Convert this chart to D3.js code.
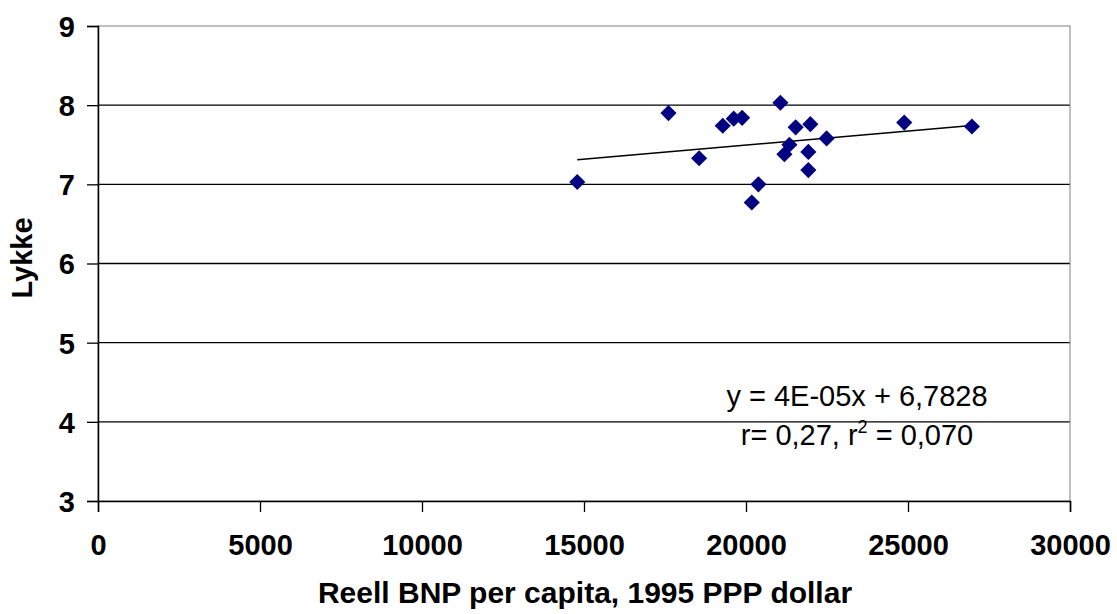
<!DOCTYPE html>
<html><head><meta charset="utf-8">
<script src="https://cdn.jsdelivr.net/npm/d3@7"></script>
<style>body{margin:0;background:#fff}svg{display:block}text{font-family:"Liberation Sans",Arial,sans-serif}</style>
</head><body><svg id="c" width="1117" height="614"></svg>
<script>
const gdp = [14792,17607,18553,19282,19621,19880,21061,20383,20177,21533,21986,21339,21184,21924,21924,22488,24884,26972];
const happiness = [7.03,7.90,7.33,7.74,7.83,7.84,8.03,7.00,6.77,7.72,7.76,7.50,7.38,7.41,7.18,7.58,7.78,7.73];
const trendSlope = 3.56e-5, trendIntercept = 6.7828;
const xTicks = [0,5000,10000,15000,20000,25000,30000];
const yTicks = [3,4,5,6,7,8,9];
const eqLine1 = "y = 4E-05x + 6,7828";

const svg = d3.select("#c");
const L=98,R=1070,T=26,B=501;
const FS = 29;
const x = d3.scaleLinear().domain([0,30000]).range([L,R]);
const y = d3.scaleLinear().domain([3,9]).range([B,T]);

// gridlines
svg.append("g").selectAll("line").data(yTicks.filter(d=>d>3 && d<9)).join("line")
  .attr("x1",L).attr("x2",R).attr("y1",d=>y(d)).attr("y2",d=>y(d))
  .attr("stroke","#000").attr("stroke-width",1.3);
// plot border gray
svg.append("rect").attr("x",L).attr("y",T).attr("width",R-L).attr("height",B-T)
  .attr("fill","none").attr("stroke","#808080").attr("stroke-width",1);

// axes
const yAxis = d3.axisLeft(y).tickValues(yTicks).tickSize(11).tickPadding(12).tickFormat(d3.format("d"));
const gy = svg.append("g").attr("transform",`translate(${L},0)`).call(yAxis);
const xAxis = d3.axisBottom(x).tickValues(xTicks).tickSize(11).tickPadding(22).tickFormat(d3.format("d"));
const gx = svg.append("g").attr("transform",`translate(0,${B})`).call(xAxis);
[gy,gx].forEach(g=>{
  g.select(".domain").attr("stroke","#000").attr("stroke-width",1.5);
  g.selectAll(".tick line").attr("stroke","#000").attr("stroke-width",1.3);
  g.selectAll("text").attr("font-family","Liberation Sans, Arial, sans-serif")
   .attr("font-size",FS).attr("font-weight","bold").attr("fill","#000");
});
gy.selectAll("text").attr("dy","0.36em");
gx.selectAll("text").attr("dy","0.71em");

// trendline
const x0 = d3.min(gdp), x1 = d3.max(gdp);
svg.append("line").attr("x1",x(x0)).attr("x2",x(x1))
  .attr("y1",y(trendIntercept+trendSlope*x0)).attr("y2",y(trendIntercept+trendSlope*x1))
  .attr("stroke","#000").attr("stroke-width",1.5);

// points
const diamond = d3.symbol().type(d3.symbolSquare).size(130);
svg.append("g").selectAll("path").data(gdp.map((g,i)=>[g,happiness[i]])).join("path")
  .attr("d",diamond)
  .attr("transform",d=>`translate(${x(d[0])},${y(d[1])}) rotate(45)`)
  .attr("fill","#000080");

// equation
svg.append("text").attr("x",857).attr("y",406).attr("text-anchor","middle")
  .attr("font-size",FS).text(eqLine1);
const t2 = svg.append("text").attr("x",857).attr("y",445).attr("text-anchor","middle").attr("font-size",FS);
t2.append("tspan").text("r= 0,27, r");
t2.append("tspan").attr("dy",-12).attr("font-size",18).text("2");
t2.append("tspan").attr("dy",12).text(" = 0,070");

// axis titles
svg.append("text").attr("x",585).attr("y",603).attr("text-anchor","middle")
  .attr("font-size",FS+1).attr("font-weight","bold").text("Reell BNP per capita, 1995 PPP dollar");
svg.append("text").attr("transform",`translate(32,258) rotate(-90)`).attr("text-anchor","middle")
  .attr("font-size",FS).attr("font-weight","bold").text("Lykke");
</script></body></html>
